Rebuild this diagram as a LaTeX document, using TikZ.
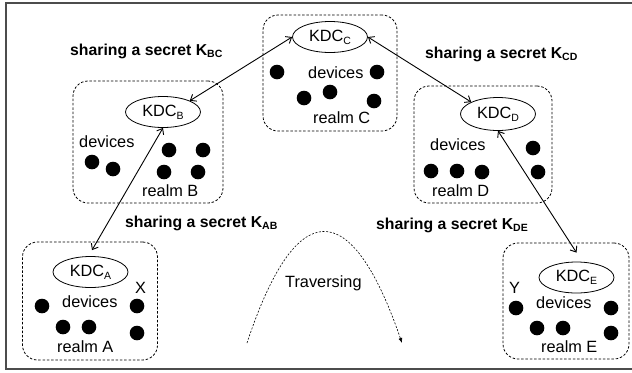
\documentclass[tikz,border=0pt]{standalone}
\usepackage{fontspec}
\setmainfont{Liberation Sans}
\usetikzlibrary{shapes.geometric,arrows.meta}
\newcommand{\lowsub}[1]{\raisebox{-0.35ex}{\fontsize{10.5bp}{11bp}\selectfont #1}}

\begin{document}
\begin{tikzpicture}[x=1bp,y=-1bp,
  frame/.style={draw=black!70, line width=1.3bp},
  realm/.style={draw, dash pattern=on 2.5bp off 1.8bp, line width=0.8bp,
    rounded corners=15bp, inner sep=0},
  kdc/.style={draw, ellipse, line width=0.8bp, minimum width=75bp,
    minimum height=31bp, inner sep=0, font=\fontsize{16.3bp}{18bp}\selectfont},
  lbl/.style={anchor=base west, inner sep=0, font=\fontsize{16.3bp}{18bp}\selectfont},
  key/.style={anchor=base west, inner sep=0, font=\fontsize{15.8bp}{18bp}\selectfont\bfseries},
  dev/.style={circle, fill, inner sep=0, minimum size=14.6bp},
  link/.style={{Straight Barb[length=5bp,width=8bp]}-{Straight Barb[length=5bp,width=8bp]},
    line width=0.9bp},
  trav/.style={dash pattern=on 2bp off 1.6bp, line width=0.6bp,
    -{Latex[length=5bp,width=4bp]}}]

\useasboundingbox (0,0) rectangle (632,372);
\draw[frame] (6,3) rectangle (636,369);

% realms
\node[realm, minimum width=134bp, minimum height=116bp] (rC) at (330,73) {};
\node[realm, minimum width=150bp, minimum height=122bp] (rB) at (148,142) {};
\node[realm, minimum width=138bp, minimum height=117bp] (rD) at (483,144.5) {};
\node[realm, minimum width=135bp, minimum height=118bp] (rA) at (90,301) {};
\node[realm, minimum width=126bp, minimum height=116bp] (rE) at (566,301) {};

% key distribution centres
\node[kdc] (kC) at (330,37) {KDC\lowsub{C}};
\node[kdc] (kB) at (163,112) {KDC\lowsub{B}};
\node[kdc, minimum height=33bp] (kD) at (498,114) {KDC\lowsub{D}};
\node[kdc] (kA) at (90.5,272) {KDC\lowsub{A}};
\node[kdc] (kE) at (576.5,277.5) {KDC\lowsub{E}};

% realm C
\node[lbl] (dC) at (308,78) {devices};
\node[lbl] (nC) at (313,123) {realm C};
\node[dev] (c1) at (277,72) {};
\node[dev] (c2) at (304,98) {};
\node[dev] (c3) at (330,92) {};
\node[dev] (c4) at (377,72) {};
\node[dev] (c5) at (374,101) {};

% realm B
\node[lbl] (dB) at (79,147) {devices};
\node[lbl] (nB) at (142,196) {realm B};
\node[dev] (b1) at (92,162) {};
\node[dev] (b2) at (113,169) {};
\node[dev] (b3) at (169,150) {};
\node[dev] (b4) at (203,150) {};
\node[dev] (b5) at (164,172) {};
\node[dev] (b6) at (198,172) {};

% realm D
\node[lbl] (dD) at (430,150) {devices};
\node[lbl] (nD) at (432,196) {realm D};
\node[dev] (d1) at (431,171) {};
\node[dev] (d2) at (457,171) {};
\node[dev] (d3) at (482,172) {};
\node[dev] (d4) at (533,148) {};
\node[dev] (d5) at (538,172) {};

% realm A
\node[lbl] (xA) at (135,293) {X};
\node[lbl] (dA) at (62,307) {devices};
\node[lbl] (nA) at (57,352) {realm A};
\node[dev] (a1) at (42,306) {};
\node[dev] (a2) at (63,327) {};
\node[dev] (a3) at (89,327) {};
\node[dev] (a4) at (137,306) {};
\node[dev] (a5) at (137,333) {};

% realm E
\node[lbl] (yE) at (509,293) {Y};
\node[lbl] (dE) at (536,308) {devices};
\node[lbl] (nE) at (541,352) {realm E};
\node[dev] (e1) at (516,308) {};
\node[dev] (e2) at (537,328) {};
\node[dev] (e3) at (563,328) {};
\node[dev] (e4) at (611,308) {};
\node[dev] (e5) at (611,333) {};

% shared secrets
\node[key] (sBC) at (70,55) {sharing a secret K\lowsub{BC}};
\node[key] (sCD) at (425,58) {sharing a secret K\lowsub{CD}};
\node[key] (sAB) at (125,227) {sharing a secret K\lowsub{AB}};
\node[key] (sDE) at (376,229) {sharing a secret K\lowsub{DE}};

\draw[link] (kB.north east) -- (kC.west);
\draw[link] (kC.east) -- (kD.north west);
\draw[link] (kB.south) -- ([shift={(1.5,-6)}]kA.north);
\draw[link] (kD.south) -- ([yshift=9bp]kE.north);

% traversal path
\node[lbl] (tr) at (285,287) {Traversing};
\coordinate (t0) at (247,343);
\coordinate (t1) at (402,343);
\draw[trav] (t0) .. controls (296,195) and (351,195) .. (t1);
\end{tikzpicture}
\end{document}
